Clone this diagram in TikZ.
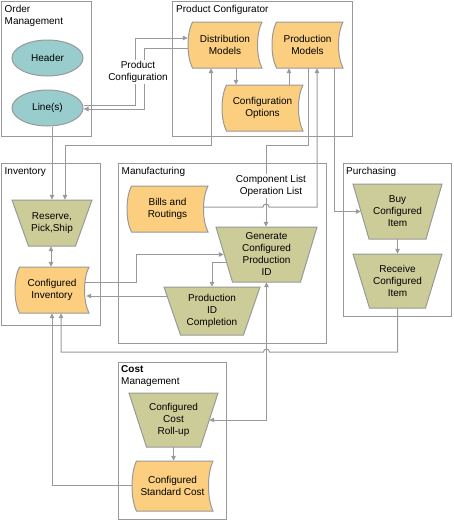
\documentclass[tikz,border=0pt]{standalone}
\usepackage{fontspec}
\setmainfont{Liberation Sans}
\usetikzlibrary{arrows.meta,shapes.geometric}
\definecolor{lineg}{HTML}{999999}
\definecolor{tealf}{HTML}{99CCCC}
\definecolor{orangef}{HTML}{FBCF7F}
\definecolor{olivef}{HTML}{CCCC99}
\newcommand\wavenode[6]{%
  \pgfmathsetmacro\wXa{#2-#4/2}\pgfmathsetmacro\wXb{#2+#4/2}%
  \pgfmathsetmacro\wYa{#3-#5/2}\pgfmathsetmacro\wYb{#3+#5/2}%
  \draw[shapeb,fill=orangef] ({\wXa+4.5},\wYa) -- (\wXb,\wYa)
     .. controls ({\wXb-6},{\wYa+#5/4}) and ({\wXb-6},{\wYb-#5/4}) .. (\wXb,\wYb)
     -- ({\wXa+4.5},\wYb)
     .. controls ({\wXa-1.5},{\wYb-#5/4}) and ({\wXa-1.5},{\wYa+#5/4}) .. cycle;
  \node[txt,minimum width=#4pt,minimum height=#5pt] (#1) at (#2,#3) {#6};
}
\newcommand\trapnode[7]{%
  \pgfmathsetmacro\tYa{#3-#6/2}\pgfmathsetmacro\tYb{#3+#6/2}%
  \pgfmathsetmacro\tXa{#2-#4/2}\pgfmathsetmacro\tXb{#2+#4/2}%
  \pgfmathsetmacro\tXc{#2+#5/2}\pgfmathsetmacro\tXd{#2-#5/2}%
  \draw[shapeb,fill=olivef] (\tXa,\tYa) -- (\tXb,\tYa) -- (\tXc,\tYb) -- (\tXd,\tYb) -- cycle;
  \node[txt,minimum width=#4pt,minimum height=#6pt] (#1) at (#2,#3) {#7};
}
\tikzset{
  every node/.style={font=\fontsize{10}{12}\selectfont},
  shapeb/.style={draw=lineg,line width=1pt},
  txt/.style={align=center,inner sep=0pt},
  frame/.style={draw=lineg,line width=1pt},
  ttl/.style={anchor=north west,align=left,inner sep=0pt},
  conn/.style={draw=lineg,line width=1pt},
  arr/.style={conn,-{Triangle[length=5pt,width=4.5pt]}},
  barr/.style={conn,{Triangle[length=5pt,width=4.5pt]}-{Triangle[length=5pt,width=4.5pt]}},
  lbl/.style={align=center,fill=white,inner sep=1.5pt},
  ell/.style={ellipse,draw=lineg,line width=1pt,fill=tealf,minimum width=71pt,minimum height=36pt,inner sep=0pt}
}
\begin{document}
\begin{tikzpicture}[x=1pt,y=-1pt]
\useasboundingbox (0,0) rectangle (453,522);
% containers
\draw[frame] (1,1) rectangle (91,136);
\draw[frame] (172,1) rectangle (352,136);
\draw[frame] (1,163) rectangle (100,325);
\draw[frame] (118,163) rectangle (326,343);
\draw[frame] (343,163) rectangle (451,316);
\draw[frame] (118,362) rectangle (226,519);
\node[ttl] (tom) at (4.5,5.5) {Order\\Management};
\node[ttl] (tpc) at (176,5.5) {Product Configurator};
\node[ttl] (tinv) at (4.5,167.5) {Inventory};
\node[ttl] (tman) at (121.5,167.5) {Manufacturing};
\node[ttl] (tpur) at (346,167.5) {Purchasing};
\node[ttl] (tcost) at (121,365.5) {\textbf{Cost}\\Management};
% shapes
\node[ell] (hdr) at (47.5,58) {Header};
\node[ell] (lines) at (47.5,108) {Line(s)};
\wavenode{dm}{225}{45}{74}{46}{Distribution\\Models}
\wavenode{pm}{307.5}{45}{71}{46}{Production\\Models}
\wavenode{co}{262.5}{108}{81}{46}{Configuration\\Options}
\wavenode{br}{167.5}{209}{81}{46}{Bills and\\Routings}
\wavenode{ci}{52}{290}{74}{46}{Configured\\Inventory}
\wavenode{csc}{172.5}{486}{81}{50}{Configured\\Standard Cost}
\trapnode{rps}{52}{223}{80}{47}{46}{Reserve,\\Pick,Ship}
\trapnode{gcp}{266.5}{254.5}{101}{68}{55}{Generate\\Configured\\Production\\ID}
\trapnode{pidc}{212}{311}{96}{63}{48}{Production\\ID\\Completion}
\trapnode{buy}{397.5}{211.5}{89}{57}{55}{Buy\\Configured\\Item}
\trapnode{rcv}{397.5}{281}{89}{56}{54}{Receive\\Configured\\Item}
\trapnode{cr}{173.5}{420}{89}{54}{54}{Configured\\Cost\\Roll-up}
% connectors
\draw[arr] ([yshift=3pt]lines.east) -| (135,38) -- ([yshift=7pt]dm.west);
\draw[arr] ([yshift=-3pt]dm.west) -| (144,109) -- ([yshift=-1pt]lines.east);
\draw[arr] ([xshift=4.5pt]lines.south) -- (rps.north);
\draw[barr] ([xshift=-14pt]dm.south) -- (211,145) -- (65,145) -- ([xshift=13pt]rps.north);
\draw[barr] ([xshift=-1pt]rps.south) -- ([xshift=-1pt]ci.north);
\draw[arr] ([xshift=-4pt,yshift=8pt]ci.east) -| (136,254.5) -- ([xshift=8pt]gcp.west);
\draw[arr] ([xshift=3pt,yshift=15pt]pidc.west) -- ([xshift=-3pt,yshift=-6pt]ci.east);
\draw[arr] ([xshift=11pt,yshift=-7.5pt]gcp.west) -| (pidc.north);
\draw[arr] ([xshift=-4pt,yshift=2pt]br.east) -- (263,207) arc[start angle=180,end angle=0,radius=3pt] -- (317,207) -- ([xshift=9.5pt]pm.south);
\draw[arr] ([xshift=0.5pt]pm.south) -- (308,145) -- (266,145) -- ([xshift=-0.5pt]gcp.north);
\draw[arr] ([xshift=26.5pt]co.north) -- ([xshift=-18.5pt]pm.south);
\draw[arr] ([xshift=11pt]dm.south) -- ([xshift=-26.5pt]co.north);
\draw[arr] ([xshift=26.5pt]pm.south) |- ([xshift=8pt]buy.west);
\draw[arr] (buy.south) -- (rcv.north);
\draw[arr] (rcv.south) -- (397.5,352) -- (269.5,352) arc[start angle=0,end angle=180,radius=3pt] -- (61,352) -- ([xshift=9pt]ci.south);
\draw[arr] ([yshift=1pt]csc.west) -| (ci.south);
\draw[barr] ([xshift=-9pt]cr.east) -| (gcp.south);
\draw[arr] (cr.south) -- (cr.south |- csc.north);
% labels
\node[lbl] (pclbl) at (138,72) {Product\\Configuration};
\node[lbl] (cllbl) at (271,186) {Component List\\Operation List};
\end{tikzpicture}
\end{document}
